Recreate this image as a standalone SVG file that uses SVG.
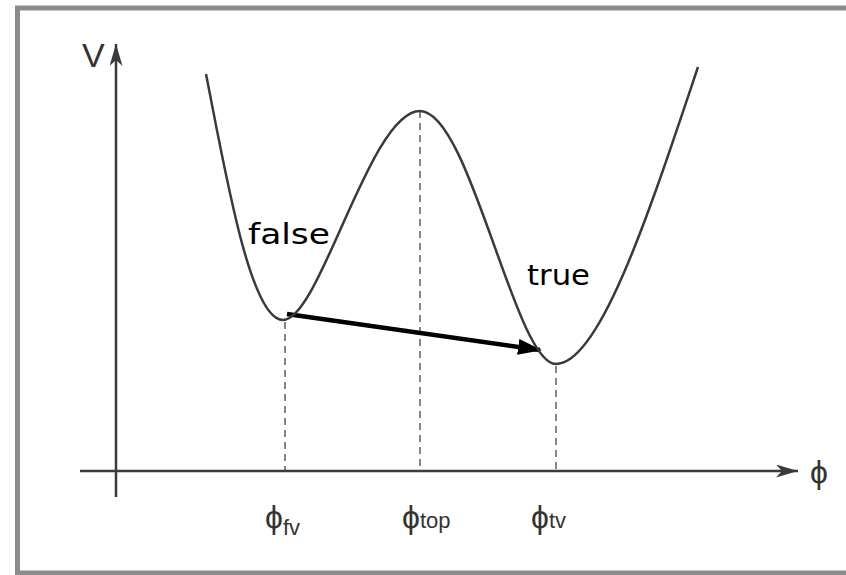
<svg xmlns="http://www.w3.org/2000/svg" width="846" height="575" viewBox="0 0 846 575">
<defs>
<style>
.axis{stroke:#3a3a3a;stroke-width:2.5;fill:none}
.dash{stroke:#444;stroke-width:1.3;stroke-dasharray:7,5;fill:none}
.lbl{font-family:"Liberation Sans",Arial,sans-serif;fill:#333}
.hand{font-family:"DejaVu Sans",sans-serif;fill:#000;font-size:29px}
</style>
<marker id="ah" viewBox="0 0 22 13" refX="22" refY="6.5" markerWidth="22" markerHeight="13" markerUnits="userSpaceOnUse" orient="auto">
<path d="M0,0 L22,6.5 L0,13 L6,6.5 Z" fill="#3a3a3a"/>
</marker>
<marker id="ab" viewBox="0 0 24 16" refX="22" refY="8" markerWidth="24" markerHeight="16" markerUnits="userSpaceOnUse" orient="auto">
<path d="M0,0 L24,8 L0,16 Z" fill="#000"/>
</marker>
</defs>
<rect x="17.5" y="8" width="900" height="565" fill="#fff" stroke="#8c8c8c" stroke-width="5"/>
<g id="axes">
<line class="axis" x1="116" y1="497" x2="116" y2="44" marker-end="url(#ah)"/>
<line class="axis" x1="80" y1="471" x2="798" y2="471" marker-end="url(#ah)"/>
<text class="lbl" x="82" y="67" font-size="34">V</text>
<text class="lbl" x="810" y="483" font-size="32">ϕ</text>
</g>
<g id="connectors">
<line class="dash" x1="285" y1="322" x2="285" y2="471"/>
<line class="dash" x1="420" y1="111" x2="420" y2="471"/>
<line class="dash" x1="556" y1="366" x2="556" y2="471"/>
<line x1="287" y1="314" x2="540" y2="350" stroke="#000" stroke-width="4.5" marker-end="url(#ab)"/>
</g>
<g id="curve">
<path d="M206,74 C225,170 250,320 283,320 C320,320 370,111 420,111 C470,111 515,364 556,364 C600,364 650,210 698,67" fill="none" stroke="#3a3a3a" stroke-width="2.5"/>
</g>
<g id="false-label"><text class="hand" x="248" y="244" textLength="82" lengthAdjust="spacingAndGlyphs">false</text></g>
<g id="true-label"><text class="hand" x="527" y="285" textLength="63" lengthAdjust="spacingAndGlyphs">true</text></g>
<g id="phi-fv"><text class="lbl" x="265" y="528" font-size="32">ϕ<tspan font-size="22" dy="7">fv</tspan></text></g>
<g id="phi-top"><text class="lbl" x="402" y="528" font-size="32">ϕ<tspan font-size="22">top</tspan></text></g>
<g id="phi-tv"><text class="lbl" x="531" y="528" font-size="32">ϕ<tspan font-size="22">tv</tspan></text></g>
</svg>
